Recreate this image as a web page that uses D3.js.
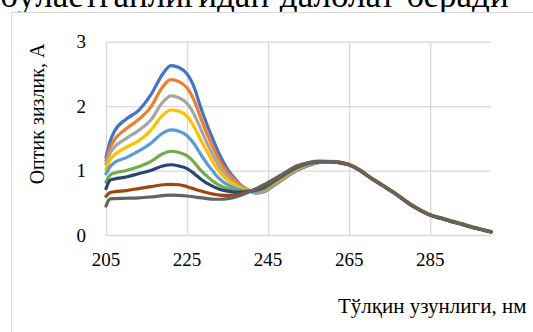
<!DOCTYPE html>
<html><head><meta charset="utf-8">
<script src="https://cdn.jsdelivr.net/npm/d3@7"></script>
<style>html,body{margin:0;padding:0;background:#fff;overflow:hidden}svg{display:block}</style>
</head><body>
<script>
const wavelengths = [205,206,207,210,213,216,219,221,223,225,227,228,230,231.5,233,235,237,238,240,242,244,246,250,252,255,258,260,262,265,268,270,273,276,280,283,285,288,290,293,296,298,300];
const s1 = [1.2,1.45,1.6,1.8,1.93,2.17,2.5,2.63,2.6,2.5,2.25,2.05,1.7,1.47,1.25,1.02,0.86,0.79,0.7,0.65,0.67,0.75,0.92,1.0,1.08,1.13,1.14,1.13,1.09,0.99,0.9,0.78,0.66,0.48,0.37,0.31,0.255,0.22,0.17,0.115,0.08,0.05];
const s2 = [1.15,1.35,1.47,1.65,1.79,1.98,2.3,2.41,2.38,2.28,2.05,1.88,1.56,1.35,1.16,0.97,0.84,0.78,0.7,0.66,0.68,0.76,0.93,1.01,1.09,1.13,1.14,1.13,1.09,0.99,0.9,0.78,0.66,0.48,0.37,0.31,0.255,0.215,0.165,0.11,0.08,0.05];
const s3 = [1.1,1.27,1.36,1.5,1.62,1.78,2.06,2.16,2.13,2.04,1.84,1.7,1.42,1.23,1.06,0.9,0.79,0.75,0.69,0.66,0.69,0.77,0.94,1.02,1.1,1.135,1.14,1.13,1.09,0.99,0.9,0.78,0.66,0.48,0.37,0.31,0.255,0.215,0.165,0.11,0.08,0.05];
const s4 = [1.02,1.17,1.24,1.36,1.46,1.62,1.86,1.94,1.92,1.84,1.65,1.52,1.29,1.12,0.98,0.85,0.77,0.73,0.69,0.67,0.7,0.78,0.95,1.02,1.1,1.135,1.145,1.14,1.1,1.0,0.91,0.79,0.67,0.49,0.38,0.32,0.265,0.23,0.175,0.12,0.085,0.055];
const s5 = [0.95,1.06,1.12,1.2,1.3,1.42,1.58,1.63,1.61,1.54,1.39,1.29,1.1,0.98,0.87,0.78,0.72,0.7,0.68,0.675,0.71,0.79,0.96,1.03,1.105,1.135,1.14,1.13,1.09,0.99,0.9,0.78,0.66,0.48,0.37,0.31,0.26,0.22,0.17,0.115,0.08,0.05];
const s6 = [0.82,0.93,0.96,1.0,1.06,1.14,1.26,1.3,1.28,1.23,1.11,1.03,0.91,0.83,0.77,0.72,0.69,0.68,0.68,0.69,0.72,0.8,0.97,1.04,1.11,1.14,1.14,1.13,1.09,0.99,0.9,0.78,0.66,0.48,0.37,0.31,0.255,0.215,0.165,0.11,0.08,0.05];
const s7 = [0.72,0.85,0.87,0.9,0.95,1.0,1.07,1.09,1.07,1.03,0.94,0.89,0.8,0.75,0.71,0.68,0.665,0.665,0.675,0.7,0.74,0.82,0.98,1.05,1.115,1.14,1.14,1.13,1.09,0.99,0.9,0.78,0.66,0.48,0.37,0.31,0.255,0.215,0.165,0.11,0.08,0.05];
const s8 = [0.6,0.66,0.67,0.69,0.72,0.75,0.78,0.785,0.78,0.75,0.71,0.69,0.655,0.635,0.62,0.615,0.625,0.635,0.665,0.71,0.76,0.83,0.99,1.06,1.12,1.14,1.14,1.125,1.085,0.985,0.895,0.775,0.655,0.475,0.365,0.305,0.25,0.21,0.16,0.105,0.075,0.045];
const s9 = [0.45,0.56,0.565,0.57,0.575,0.59,0.61,0.62,0.615,0.605,0.59,0.58,0.565,0.555,0.555,0.565,0.59,0.61,0.66,0.72,0.78,0.85,1.0,1.07,1.125,1.145,1.14,1.13,1.09,0.99,0.9,0.78,0.66,0.48,0.37,0.31,0.255,0.215,0.165,0.11,0.08,0.05];
const seriesValues = [s1,s2,s3,s4,s5,s6,s7,s8,s9];
const seriesColors = ["#4472C4","#ED7D31","#A5A5A5","#FFC000","#5B9BD5","#70AD47","#264478","#9E480E","#636363"];
const xTicks = [205,225,245,265,285];
const yTicks = [0,1,2,3];
const xTitle = "Тўлқин узунлиги, нм";
const yTitle = "Оптик зизлик, A";
const topText = "бўлаётганлигидан далолат беради";

const W = 533, H = 332;
const svg = d3.select("body").append("svg").attr("width", W).attr("height", H);
const serif = "'Liberation Serif','Times New Roman',serif";

// top body text (cut off at the top edge, as in the page)
svg.append("text").attr("x", 0).attr("y", 7)
  .attr("font-family", serif).attr("font-size", 35).attr("fill", "#000")
  .attr("word-spacing", 2).text(topText);

// chart frame
svg.append("rect").attr("x", 11.5).attr("y", 12.5).attr("width", 600).attr("height", 400)
  .attr("fill", "#fff").attr("stroke", "#d9d9d9").attr("stroke-width", 1);

const x = d3.scaleLinear().domain([205,300]).range([106,491]);
const y = d3.scaleLinear().domain([0,3]).range([235,41.7]);

// horizontal gridlines
const gy = svg.append("g").attr("transform", `translate(${x(205)},0)`)
  .call(d3.axisLeft(y).tickValues(yTicks).tickSize(-(x(300)-x(205))).tickFormat(""));
gy.select(".domain").remove();
gy.selectAll("line").attr("stroke", "#d9d9d9").attr("stroke-width", 1.3);

// vertical gridlines
const gx = svg.append("g").attr("transform", `translate(0,${y(0)})`)
  .call(d3.axisBottom(x).tickValues(xTicks).tickSize(-(y(0)-y(3))).tickFormat(""));
gx.select(".domain").remove();
gx.selectAll("line").attr("stroke", "#d9d9d9").attr("stroke-width", 1.3);

// tick labels
svg.append("g").selectAll("text").data(yTicks).join("text")
  .attr("x", 86).attr("y", d=>y(d)).attr("dy", "0.35em").attr("text-anchor", "end")
  .attr("font-family", serif).attr("font-size", 19).text(d=>d);
svg.append("g").selectAll("text").data(xTicks).join("text")
  .attr("x", d=>x(d)).attr("y", 266).attr("text-anchor", "middle")
  .attr("font-family", serif).attr("font-size", 19).text(d=>d);

// titles
svg.append("text").attr("transform", "translate(44,114) rotate(-90)")
  .attr("text-anchor", "middle").attr("font-family", serif).attr("font-size", 20).text(yTitle);
svg.append("text").attr("x", 338).attr("y", 313)
  .attr("font-family", serif).attr("font-size", 21).text(xTitle);

// lines
const line = d3.line().x(d=>x(d[0])).y(d=>y(d[1])).curve(d3.curveMonotoneX);
seriesValues.forEach((vals, i) => {
  svg.append("path").datum(wavelengths.map((w,j)=>[w, vals[j]]))
    .attr("d", line).attr("fill", "none").attr("stroke", seriesColors[i])
    .attr("stroke-width", 3.2).attr("stroke-linecap", "round").attr("stroke-linejoin", "round");
});
</script>
</body></html>
